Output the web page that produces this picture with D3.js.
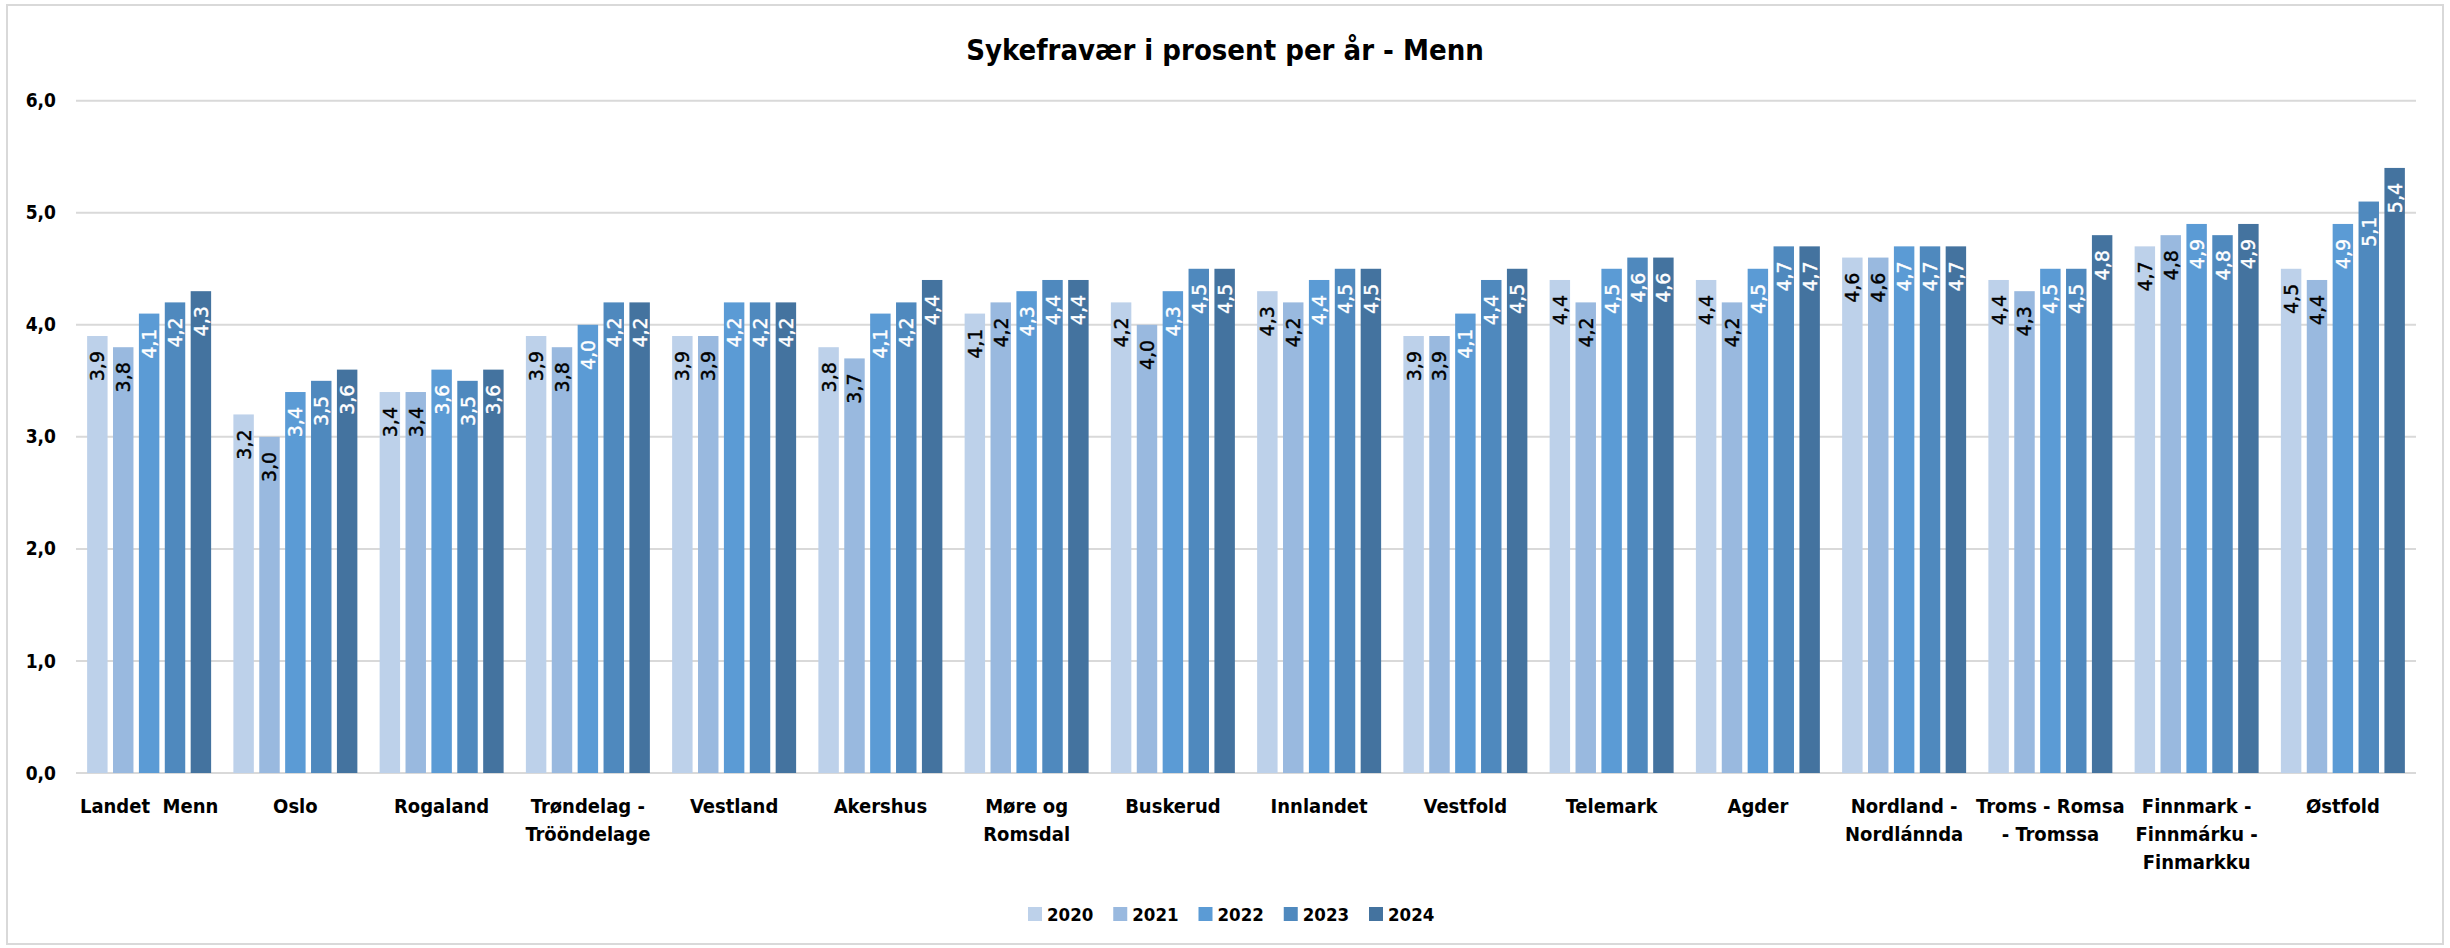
<!DOCTYPE html>
<html>
<head>
<meta charset="utf-8">
<script src="https://cdn.jsdelivr.net/npm/d3@7"></script>
<style>
  html, body { margin: 0; padding: 0; background: #fff; }
  svg { display: block; }
  .cond { font-family: 'Liberation Sans Narrow', 'DejaVu Sans Condensed', 'Arial Narrow', sans-serif; font-weight: bold; }
  .lbl { font-family: 'DejaVu Sans', Verdana, sans-serif; }
</style>
</head>
<body>
<svg id="chart" width="2450" height="948"></svg>
<script>
const title = "Sykefravær i prosent per år - Menn";
const categories = [
  ["Landet  Menn"],
  ["Oslo"],
  ["Rogaland"],
  ["Trøndelag -", "Trööndelage"],
  ["Vestland"],
  ["Akershus"],
  ["Møre og", "Romsdal"],
  ["Buskerud"],
  ["Innlandet"],
  ["Vestfold"],
  ["Telemark"],
  ["Agder"],
  ["Nordland -", "Nordlánnda"],
  ["Troms - Romsa", "- Tromssa"],
  ["Finnmark -", "Finnmárku -", "Finmarkku"],
  ["Østfold"]
];
const years = ["2020", "2021", "2022", "2023", "2024"];
const v2020 = [3.9, 3.2, 3.4, 3.9, 3.9, 3.8, 4.1, 4.2, 4.3, 3.9, 4.4, 4.4, 4.6, 4.4, 4.7, 4.5];
const v2021 = [3.8, 3.0, 3.4, 3.8, 3.9, 3.7, 4.2, 4.0, 4.2, 3.9, 4.2, 4.2, 4.6, 4.3, 4.8, 4.4];
const v2022 = [4.1, 3.4, 3.6, 4.0, 4.2, 4.1, 4.3, 4.3, 4.4, 4.1, 4.5, 4.5, 4.7, 4.5, 4.9, 4.9];
const v2023 = [4.2, 3.5, 3.5, 4.2, 4.2, 4.2, 4.4, 4.5, 4.5, 4.4, 4.6, 4.7, 4.7, 4.5, 4.8, 5.1];
const v2024 = [4.3, 3.6, 3.6, 4.2, 4.2, 4.4, 4.4, 4.5, 4.5, 4.5, 4.6, 4.7, 4.7, 4.8, 4.9, 5.4];
const yTicks = [0, 1, 2, 3, 4, 5, 6];

const seriesValues = [v2020, v2021, v2022, v2023, v2024];
const colors = ["#BDD1EA", "#99B9DF", "#5B9BD5", "#4F89BE", "#44739F"];
const labelColors = ["#000", "#000", "#fff", "#fff", "#fff"];

const svg = d3.select("#chart");
const m = { left: 76, right: 2416, top: 100.7, bottom: 773 };

// outer border
svg.append("rect").attr("x", 7).attr("y", 5).attr("width", 2436).attr("height", 939)
  .attr("fill", "#fff").attr("stroke", "#d9d9d9").attr("stroke-width", 2);

const catKeys = categories.map(c => c.join(" "));
const x0 = d3.scaleBand().domain(catKeys).range([m.left, m.right]).padding(0);
const x1 = d3.scaleBand().domain(years).range([0, x0.bandwidth()]).paddingInner(0.21).paddingOuter(0.43);
const y = d3.scaleLinear().domain([0, 6]).range([m.bottom, m.top]);
const fmt = v => d3.format(".1f")(v).replace(".", ",");

// gridlines
svg.append("g").selectAll("line").data(yTicks).join("line")
  .attr("x1", m.left).attr("x2", m.right)
  .attr("y1", d => y(d)).attr("y2", d => y(d))
  .attr("stroke", "#d9d9d9").attr("stroke-width", 2);

// y axis labels
const yAxis = d3.axisLeft(y).tickValues(yTicks).tickFormat(fmt).tickSize(0).tickPadding(20);
const gy = svg.append("g").attr("transform", `translate(${m.left},0)`).call(yAxis);
gy.select(".domain").remove();
gy.selectAll("text").attr("class", "cond").attr("font-size", 19).attr("fill", "#000");

// bars
const rows = categories.map((c, i) => ({ key: catKeys[i], vals: years.map((yr, j) => ({ yr, j, v: seriesValues[j][i] })) }));
const groups = svg.append("g").selectAll("g").data(rows).join("g")
  .attr("transform", d => `translate(${x0(d.key)},0)`);
groups.selectAll("rect").data(d => d.vals).join("rect")
  .attr("x", d => x1(d.yr)).attr("width", x1.bandwidth())
  .attr("y", d => y(d.v)).attr("height", d => y(0) - y(d.v))
  .attr("fill", d => colors[d.j]);
groups.selectAll("text").data(d => d.vals).join("text")
  .attr("class", "lbl")
  .attr("transform", d => `translate(${x1(d.yr) + x1.bandwidth() / 2},${y(d.v)}) rotate(-90)`)
  .attr("x", -15).attr("y", 0)
  .attr("text-anchor", "end").attr("dominant-baseline", "central")
  .attr("font-size", 19).attr("fill", d => labelColors[d.j])
  .attr("stroke", d => labelColors[d.j]).attr("stroke-width", 0.4)
  .text(d => fmt(d.v));

// category labels
const gx = svg.append("g");
categories.forEach((lines, i) => {
  const cx = x0(catKeys[i]) + x0.bandwidth() / 2;
  const t = gx.append("text").attr("class", "cond").attr("font-size", 20)
    .attr("text-anchor", "middle").attr("fill", "#000")
    .attr("x", cx).attr("y", 813)
    .attr("xml:space", "preserve");
  lines.forEach((ln, k) => {
    t.append("tspan").attr("x", cx).attr("dy", k === 0 ? 0 : 28).text(ln);
  });
});

// title
svg.append("text").attr("class", "cond").attr("font-size", 29)
  .attr("x", 1225).attr("y", 60).attr("text-anchor", "middle").attr("fill", "#000")
  .text(title);

// legend
const legStart = 1028, legStep = 85.25;
const lg = svg.append("g").selectAll("g").data(years).join("g")
  .attr("transform", (d, i) => `translate(${legStart + i * legStep},907)`);
lg.append("rect").attr("width", 14).attr("height", 14).attr("fill", (d, i) => colors[i]);
lg.append("text").attr("class", "cond").attr("font-size", 18.5)
  .attr("x", 19).attr("y", 7).attr("dominant-baseline", "central").attr("fill", "#000")
  .text(d => d);
</script>
</body>
</html>
